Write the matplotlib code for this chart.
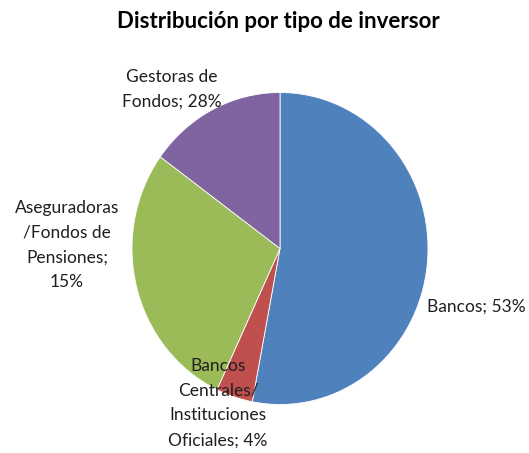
import matplotlib
matplotlib.use("Agg")
import matplotlib.pyplot as plt

title = "Distribución por tipo de inversor"
categories = ["Bancos", "Bancos Centrales/Instituciones Oficiales",
              "Aseguradoras/Fondos de Pensiones", "Gestoras de Fondos"]
slice_values = [53, 4, 28, 15]
label_texts = ["Bancos; 53%",
               "Bancos\nCentrales/\nInstituciones\nOficiales; 4%",
               "Aseguradoras\n/Fondos de\nPensiones;\n15%",
               "Gestoras de\nFondos; 28%"]
colors = ["#4F81BD", "#C0504D", "#9BBB59", "#8064A2"]

plt.rcParams['font.family'] = ['Lato', 'DejaVu Sans']

W, H = 529, 453
fig = plt.figure(figsize=(W / 100, H / 100), dpi=100)
ax = fig.add_axes([0, 0, 1, 1])
sx, sy = 148.0, 156.0
cx, cy = 280.0, 248.5
ax.pie(slice_values, colors=colors, startangle=90, counterclock=False,
       radius=1.0, center=(0, 0),
       wedgeprops=dict(edgecolor="white", linewidth=0.6))
ax.set_aspect('auto')
ax.set_xlim(-cx / sx, (W - cx) / sx)
ax.set_ylim((cy - H) / sy, cy / sy)
ax.axis('off')

label_pos = [(476, 307), (218, 403), (67, 245), (172, 89.5)]
for txt, (px, py) in zip(label_texts, label_pos):
    ax.text((px - cx) / sx, (cy - py) / sy, txt, ha='center', va='center',
            fontsize=12.5, color='#1f1f1f', linespacing=1.68)

fig.text(278 / W, 1 - 22 / H, title, ha='center', va='center',
         fontsize=16, fontweight='bold', color='black')

fig.savefig("out.png", dpi=100)
